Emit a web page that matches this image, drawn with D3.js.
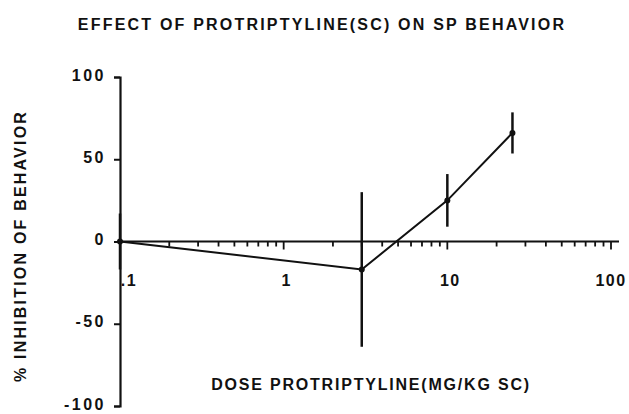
<!DOCTYPE html>
<html>
<head>
<meta charset="utf-8">
<script src="https://cdn.jsdelivr.net/npm/d3@7"></script>
<style>
  body { margin: 0; background: #fff; }
  text { font-family: "Liberation Sans", Arial, sans-serif; font-weight: bold; fill: #111; }
</style>
</head>
<body>
<div id="chart"></div>
<script>
const doses = [0.1, 3, 10, 25];
const inhibition = [0, -17, 25, 66];
const errors = [17, 47, 16, 12.5];
const yTicks = [-100, -50, 0, 50, 100];
const xMajorTicks = [0.1, 1, 10, 100];
const xTickLabels = [".1", "1", "10", "100"];

const width = 629, height = 414;

const svg = d3.select("#chart")
    .append("svg")
    .attr("width", width)
    .attr("height", height);

const x = d3.scaleLog().domain([0.1, 100]).range([120, 611]);
const y = d3.scaleLinear().domain([-100, 100]).range([406, 77]);

// minor ticks 2..9 per decade
const minorTicks = [];
[0.1, 1, 10].forEach(base => {
    for (let k = 2; k <= 9; k++) minorTicks.push(base * k);
});

// y axis
const yAxis = svg.append("g")
    .attr("transform", `translate(${x(0.1)},0)`)
    .call(d3.axisLeft(y).tickValues(yTicks).tickSize(6).tickPadding(8)
        .tickFormat(d => String(d)));
yAxis.select(".domain").attr("stroke-width", 2.2).attr("stroke", "#111");
yAxis.selectAll(".tick line").attr("stroke-width", 2).attr("stroke", "#111");
yAxis.selectAll(".tick text")
    .attr("dy", "0.2em")
    .style("font-size", "16px").style("letter-spacing", "2.5px");

// x axis along y=0
const xAxisG = svg.append("g")
    .attr("transform", `translate(0,${y(0)})`);
xAxisG.append("line")
    .attr("x1", x(0.1)).attr("x2", x(100) + 8)
    .attr("y1", 0).attr("y2", 0)
    .attr("stroke", "#111").attr("stroke-width", 2);
xAxisG.selectAll(".minor")
    .data(minorTicks)
    .enter().append("line")
    .attr("x1", d => x(d)).attr("x2", d => x(d))
    .attr("y1", 0).attr("y2", 5)
    .attr("stroke", "#111").attr("stroke-width", 1.8);
xAxisG.selectAll(".major")
    .data(xMajorTicks.slice(1))
    .enter().append("line")
    .attr("x1", d => x(d)).attr("x2", d => x(d))
    .attr("y1", 0).attr("y2", 8)
    .attr("stroke", "#111").attr("stroke-width", 1.8);
xAxisG.selectAll(".lbl")
    .data(xMajorTicks)
    .enter().append("text")
    .attr("x", (d, i) => x(d) + (i === 0 ? 9 : i === 3 ? 0 : 3))
    .attr("y", 44)
    .attr("text-anchor", "middle")
    .style("font-size", "16px")
    .style("letter-spacing", "1.5px")
    .text((d, i) => xTickLabels[i]);

// data line
const pts = doses.map((d, i) => ({ dose: d, val: inhibition[i], err: errors[i] }));
svg.append("path")
    .datum(pts)
    .attr("fill", "none")
    .attr("stroke", "#111")
    .attr("stroke-width", 2)
    .attr("d", d3.line().x(d => x(d.dose)).y(d => y(d.val)));

// error bars
svg.selectAll(".err")
    .data(pts)
    .enter().append("line")
    .attr("x1", d => x(d.dose)).attr("x2", d => x(d.dose))
    .attr("y1", d => y(d.val + d.err)).attr("y2", d => y(d.val - d.err))
    .attr("stroke", "#111").attr("stroke-width", 2.5);

svg.selectAll(".pt")
    .data(pts)
    .enter().append("circle")
    .attr("cx", d => x(d.dose)).attr("cy", d => y(d.val))
    .attr("r", 3).attr("fill", "#111");

// titles
svg.append("text")
    .attr("x", 322).attr("y", 30)
    .attr("text-anchor", "middle")
    .style("font-size", "16px")
    .style("letter-spacing", "2.2px")
    .text("EFFECT OF PROTRIPTYLINE(SC) ON SP BEHAVIOR");

svg.append("text")
    .attr("x", 371).attr("y", 390)
    .attr("text-anchor", "middle")
    .style("font-size", "16px")
    .style("letter-spacing", "1.8px")
    .text("DOSE PROTRIPTYLINE(MG/KG SC)");

svg.append("text")
    .attr("transform", "translate(26,246) rotate(-90)")
    .attr("text-anchor", "middle")
    .style("font-size", "16px")
    .style("letter-spacing", "2.2px")
    .text("% INHIBITION OF BEHAVIOR");
</script>
</body>
</html>
